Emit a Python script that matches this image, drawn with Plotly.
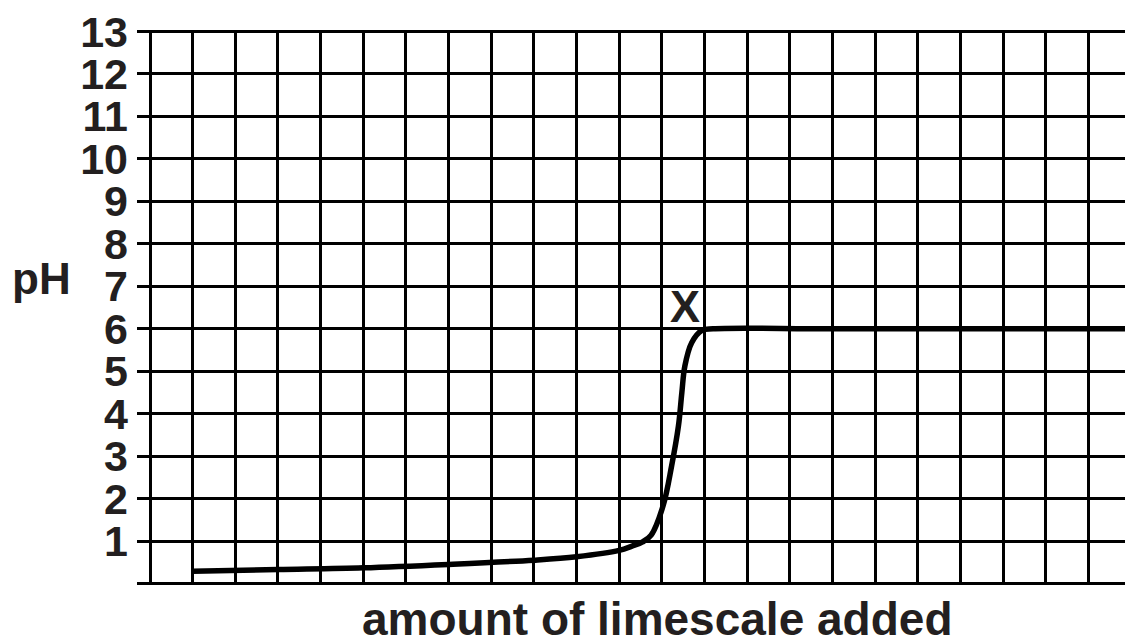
import plotly.graph_objects as go

# Data
amount = [1.0, 3.0, 5.0, 7.0, 9.0, 10.0, 11.0, 11.3, 11.55, 11.75, 12.03, 12.23,
          12.39, 12.47, 12.54, 12.7, 12.94, 13.2, 16.0, 22.86]
ph = [0.29, 0.33, 0.37, 0.45, 0.55, 0.63, 0.78, 0.88, 0.98, 1.14, 1.83, 2.77,
      3.71, 4.5, 5.12, 5.67, 5.96, 6.0, 6.0, 6.0]

ph_ticks = list(range(0, 14))
ph_labels = [""] + [str(v) for v in range(1, 14)]
x_grid = list(range(0, 23))

point_label = "X"
point_x = 12.54
point_y = 6.52

x_title = "amount of limescale added"
y_title = "pH"

ink = "#231f20"
font_family = "Liberation Sans, Arial, Helvetica, sans-serif"

L, T, B = 137, 30, 59
PW, PH = 1125 - L, 644 - T - B

fig = go.Figure()
fig.add_trace(go.Scatter(
    x=amount, y=ph, mode="lines",
    line=dict(color="black", width=5.5, shape="spline", smoothing=1.0),
    showlegend=False, hoverinfo="skip",
))

fig.add_annotation(x=point_x, y=point_y, xref="x", yref="y", text=point_label,
                   showarrow=False,
                   font=dict(family=font_family, size=45, color=ink, weight="bold"))

fig.add_annotation(xref="paper", yref="paper",
                   x=(657 - L) / PW, y=-(619 - (644 - B)) / PH,
                   text=x_title, showarrow=False,
                   xanchor="center", yanchor="middle",
                   font=dict(family=font_family, size=46, color=ink, weight="bold"))

fig.add_annotation(xref="paper", yref="paper", x=(41 - L) / PW,
                   y=((644 - B) - 278) / PH, text=y_title, showarrow=False,
                   xanchor="center", yanchor="middle",
                   font=dict(family=font_family, size=44, color=ink, weight="bold"))

fig.update_layout(
    width=1125, height=644,
    margin=dict(l=L, r=0, t=T, b=B, autoexpand=False),
    paper_bgcolor="white", plot_bgcolor="white",
    xaxis=dict(range=[-0.305, 22.86], tickvals=x_grid, showticklabels=False,
               showgrid=True, gridcolor="black", gridwidth=2.5,
               zeroline=False, showline=False, ticks="", automargin=False),
    yaxis=dict(range=[-0.035, 13.035], tickvals=ph_ticks, ticktext=ph_labels,
               showgrid=True, gridcolor="black", gridwidth=2.5,
               zeroline=False, showline=False, ticks="", automargin=False,
               ticklabelstandoff=8,
               tickfont=dict(family=font_family, size=43, color=ink, weight="bold")),
)

fig.write_html("out.html", config={"displayModeBar": False},
               post_script="document.body.style.margin='0';")
